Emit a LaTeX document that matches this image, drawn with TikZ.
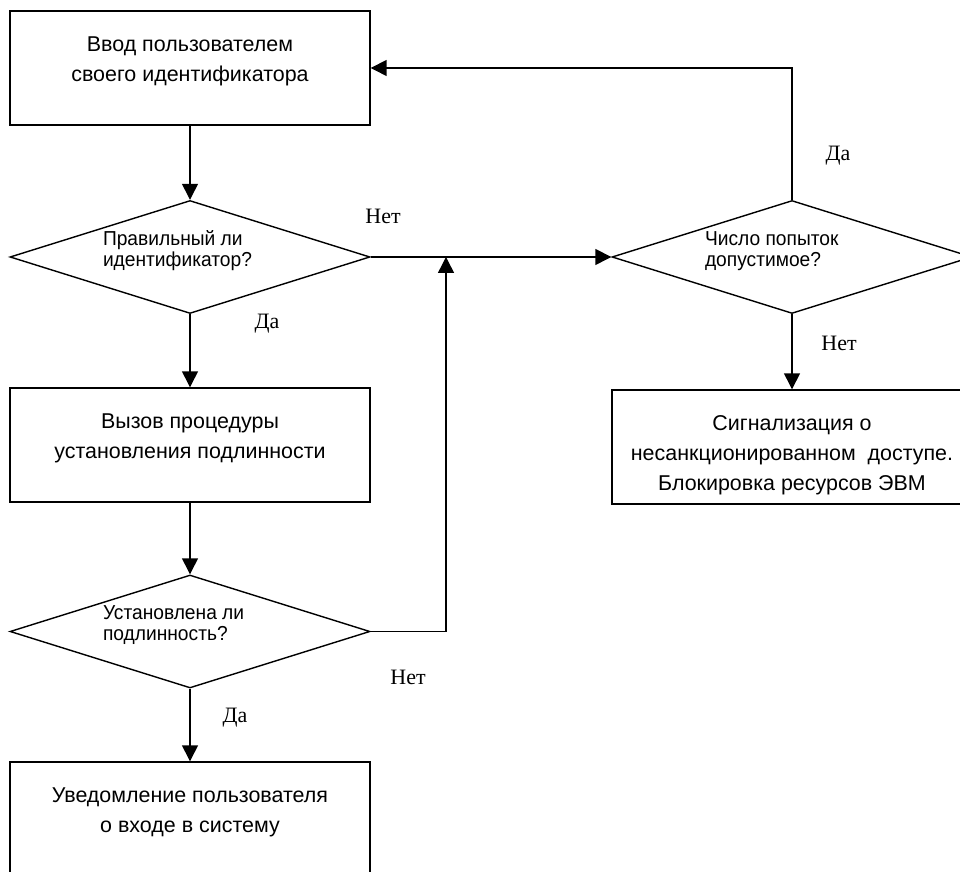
\documentclass[tikz,border=0pt]{standalone}
\usepackage{fontspec}
\setmainfont{Liberation Serif}
\setsansfont{Liberation Sans}
\newfontfamily\asksans[FakeStretch=0.95]{Liberation Sans}
\usetikzlibrary{arrows.meta,shapes.geometric}
\newcommand{\boxlines}[1]{\parbox[c][2.28cm][t]{7.2cm}{\centering\rule{0pt}{0.82cm}#1}}
\newcommand{\asklines}[1]{\parbox{3.48cm}{\raggedright #1\par\vspace{0.24cm}}}
\tikzset{
  fc diagram/.style={line width=0.8pt},
  fc box/.style={draw, inner sep=0pt, font=\sffamily\fontsize{12.2}{17}\selectfont},
  fc decision/.style={diamond, draw, aspect=3.2, inner sep=0pt,
    minimum width=7.2cm, minimum height=2.26cm,
    font=\asksans\fontsize{11.5}{12}\selectfont},
  fc arrow/.style={-{Triangle[length=9pt,width=9pt]}},
  fc answer/.style={font=\fontsize{12.5}{14}\selectfont}
}
\begin{document}
\begin{tikzpicture}[fc diagram]
\useasboundingbox (0,0) rectangle (19.2,17.44);
\clip (0,0) rectangle (19.2,17.44);
% left column
\node[fc box] (input) at (3.8,16.08) {\boxlines{Ввод пользователем\\своего идентификатора}};
\node[fc decision] (idcheck) at (3.8,12.3) {\asklines{Правильный ли\\идентификатор?}};
\node[fc box] (auth) at (3.8,8.54) {\boxlines{Вызов процедуры\\установления подлинности}};
\node[fc decision] (authcheck) at (3.8,4.81) {\asklines{Установлена ли\\подлинность?}};
\node[fc box] (notify) at (3.8,1.06) {\boxlines{Уведомление пользователя\\о входе в систему}};
% right column
\node[fc decision] (attempts) at (15.84,12.3) {\asklines{Число попыток\\допустимое?}};
\node[fc box] (alarm) at (15.84,8.5) {\boxlines{Сигнализация о\\несанкционированном \ доступе.\\Блокировка ресурсов ЭВМ}};
\coordinate (merge) at (8.92,12.3);
% connectors
\draw[fc arrow] (input) -- (idcheck);
\draw[fc arrow] (idcheck) -- (auth);
\draw[fc arrow] (auth) -- (authcheck);
\draw[fc arrow] (authcheck) -- (notify);
\draw[fc arrow] (idcheck.east) -- (attempts.west);
\draw[fc arrow] (authcheck.east) -| (merge);
\draw[fc arrow] (attempts.north) |- (input.east);
\draw[fc arrow] (attempts.south) -- (alarm.north);
% answers
\node[fc answer] (id no) at (7.66,13.12) {Нет};
\node[fc answer] (id yes) at (5.34,10.96) {Да};
\node[fc answer] (auth no) at (8.16,3.9) {Нет};
\node[fc answer] (auth yes) at (4.7,3.08) {Да};
\node[fc answer] (try yes) at (16.76,14.32) {Да};
\node[fc answer] (try no) at (16.78,10.58) {Нет};
\end{tikzpicture}
\end{document}
